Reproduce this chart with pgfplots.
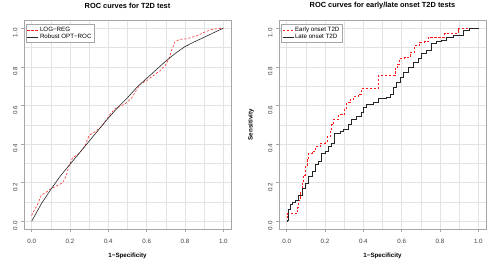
\documentclass[border=0pt]{standalone}
\usepackage{pgfplots}
\pgfplotsset{compat=1.18}
\usepackage{fontspec}
\setmainfont{Liberation Sans}
\pgfplotsset{
  rocax/.style={
    scale only axis, width=207pt, height=208.5pt,
    xmin=-0.04, xmax=1.04, ymin=-0.04, ymax=1.04,
    xtick={0,0.2,0.4,0.6,0.8,1}, ytick={0,0.2,0.4,0.6,0.8,1},
    minor xtick={0.1,0.3,0.5,0.7,0.9}, minor ytick={0.1,0.3,0.5,0.7,0.9},
    grid=both,
    major grid style={gray!22, line width=0.4pt},
    minor grid style={gray!22, line width=0.4pt},
    minor tick length=0pt, major tick length=3pt, tick align=outside,
    xtick pos=lower, ytick pos=left,
    axis line style={gray!70, line width=0.5pt},
    major tick style={gray!70, line width=0.5pt},
    /pgf/number format/assume math mode=true,
    /pgf/number format/.cd, fixed, fixed zerofill, precision=1, /pgfplots/.cd,
    ticklabel style={font=\fontsize{6.2}{7}\selectfont, text=black!75},
    xticklabel style={yshift=-3.5pt},
    yticklabel style={rotate=90, anchor=south, xshift=-4.5pt},
    every axis title shift=0pt,
    title style={font=\bfseries\fontsize{7.4}{9}\selectfont, at={(axis description cs:0.5,1.0695)}, anchor=center},
    xlabel style={font=\bfseries\fontsize{6.2}{7}\selectfont, at={(axis description cs:0.5,-0.1295)}, anchor=center},
    ylabel style={font=\bfseries\fontsize{6.2}{7}\selectfont, at={(axis description cs:-0.1353,0.5)}, anchor=center},
    legend style={at={(axis description cs:0,1)}, anchor=north west, xshift=1.5pt, yshift=-4pt,
      draw=gray!70, fill=white, font=\fontsize{6.2}{7}\selectfont,
      inner xsep=1.5pt, inner ysep=1pt, row sep=-1pt,
      nodes={inner sep=1.2pt}},
    legend cell align=left,
    legend image code/.code={\draw[#1] (0pt,0pt) -- (11pt,0pt);},
  },
  redd/.style={red!90, line width=0.55pt, dash pattern=on 2.2pt off 1.8pt},
  blk/.style={black!85, line width=0.6pt},
}
\begin{document}
\begin{tikzpicture}
\useasboundingbox (0,0) rectangle (490pt,264pt);
\begin{axis}[rocax, at={(24pt,35pt)}, anchor=south west,
  title={ROC curves for T2D test}, xlabel={1−Specificity}, ylabel={Sensitivity}]
\addplot[redd] coordinates {(0,0.03)(0.01,0.05)(0.033,0.092)(0.05,0.135)(0.075,0.15)(0.1,0.168)(0.136,0.186)(0.162,0.2)(0.18,0.235)(0.196,0.29)(0.214,0.33)(0.24,0.345)(0.265,0.37)(0.282,0.4)(0.3,0.445)(0.325,0.46)(0.36,0.486)(0.386,0.52)(0.41,0.555)(0.437,0.585)(0.463,0.595)(0.497,0.615)(0.523,0.641)(0.549,0.684)(0.566,0.71)(0.6,0.728)(0.635,0.755)(0.67,0.78)(0.696,0.806)(0.718,0.845)(0.73,0.885)(0.747,0.928)(0.77,0.942)(0.808,0.945)(0.86,0.96)(0.903,0.98)(0.946,0.995)(1,1)};
\addlegendentry{LOG−REG}
\addplot[blk] coordinates {(0,0)(0.05,0.09)(0.1,0.165)(0.15,0.235)(0.2,0.295)(0.25,0.355)(0.3,0.415)(0.35,0.475)(0.4,0.535)(0.45,0.59)(0.5,0.64)(0.55,0.695)(0.6,0.74)(0.65,0.785)(0.7,0.83)(0.75,0.87)(0.8,0.905)(0.85,0.93)(0.9,0.953)(0.95,0.977)(1,1)};
\addlegendentry{Robust OPT−ROC}
\end{axis}
\begin{axis}[rocax, at={(279pt,35pt)}, anchor=south west,
  title={ROC curves for early/late onset T2D tests}, xlabel={1−Specificity}, ylabel={Sensitivity}]
\addlegendimage{redd}
\addlegendentry{Early onset T2D}
\addlegendimage{blk}
\addlegendentry{Late onset T2D}
\addplot[redd, const plot, forget plot] coordinates {(0,0)(0.005,0.04)(0.05,0.04)(0.056,0.07)(0.062,0.109)(0.07,0.15)(0.08,0.196)(0.088,0.24)(0.097,0.284)(0.106,0.32)(0.115,0.353)(0.132,0.362)(0.15,0.388)(0.175,0.406)(0.2,0.41)(0.212,0.44)(0.227,0.467)(0.235,0.5)(0.244,0.528)(0.27,0.554)(0.287,0.554)(0.3,0.585)(0.313,0.615)(0.33,0.63)(0.35,0.645)(0.375,0.66)(0.39,0.688)(0.47,0.688)(0.478,0.755)(0.548,0.755)(0.565,0.79)(0.578,0.815)(0.59,0.842)(0.616,0.85)(0.643,0.876)(0.668,0.91)(0.694,0.928)(0.72,0.932)(0.738,0.955)(0.798,0.955)(0.824,0.972)(0.876,0.972)(0.894,0.998)(1,1)};
\addplot[blk, const plot, forget plot] coordinates {(0,0)(0.002,0.005)(0.01,0.06)(0.02,0.09)(0.028,0.1)(0.045,0.109)(0.062,0.135)(0.08,0.17)(0.097,0.196)(0.115,0.232)(0.132,0.258)(0.15,0.293)(0.167,0.31)(0.18,0.353)(0.2,0.362)(0.218,0.388)(0.235,0.406)(0.25,0.458)(0.278,0.467)(0.296,0.476)(0.322,0.502)(0.339,0.528)(0.365,0.545)(0.39,0.563)(0.4,0.589)(0.417,0.606)(0.452,0.615)(0.478,0.636)(0.522,0.641)(0.539,0.659)(0.556,0.694)(0.574,0.72)(0.591,0.746)(0.609,0.772)(0.634,0.798)(0.66,0.824)(0.686,0.842)(0.703,0.868)(0.729,0.885)(0.755,0.92)(0.781,0.932)(0.807,0.937)(0.833,0.955)(0.868,0.963)(0.894,0.963)(0.92,0.99)(0.954,0.998)(1,1)};
\end{axis}
\end{tikzpicture}
\end{document}
